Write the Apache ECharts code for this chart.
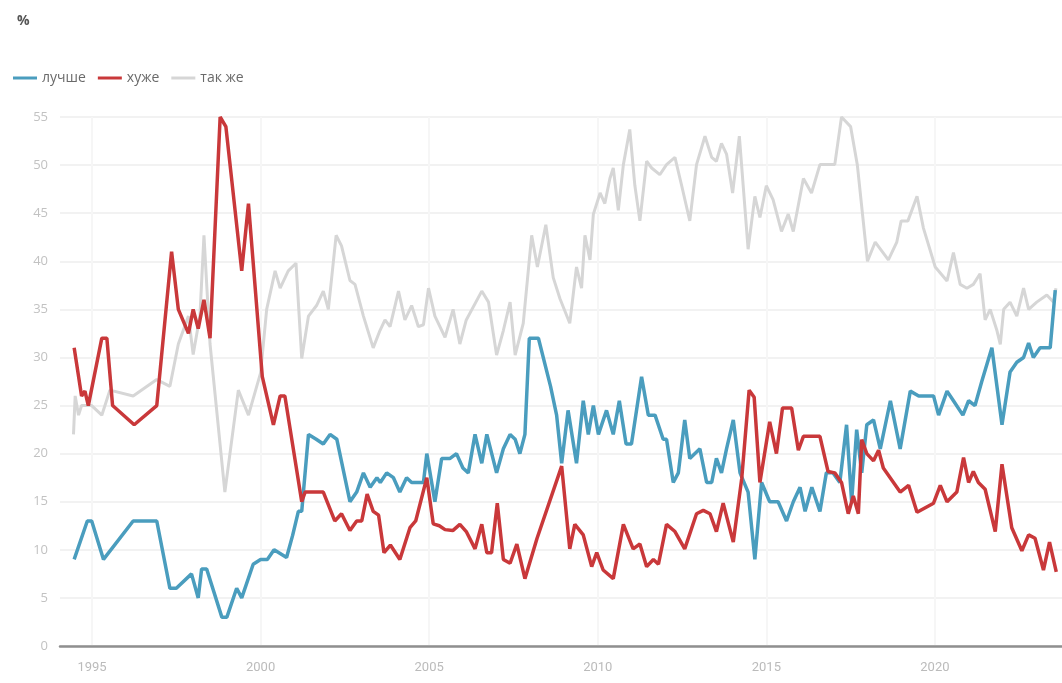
<!DOCTYPE html>
<html lang="ru">
<head>
<meta charset="UTF-8">
<title>лучше / хуже / так же</title>
<style>
  html, body { margin: 0; padding: 0; background: #fff; }
  #main { width: 1062px; height: 683px; }
</style>
</head>
<body>
<div id="main"></div>
<script src="https://cdn.jsdelivr.net/npm/echarts@6/dist/echarts.min.js"></script>
<script>
// [год, %]
var better = [
  [1994.47, 9], [1994.86, 13], [1994.99, 13], [1995.34, 9], [1996.22, 13], [1996.92, 13],
  [1997.31, 6], [1997.5, 6], [1997.95, 7.5], [1998.15, 5], [1998.25, 8], [1998.4, 8],
  [1998.85, 3], [1999.0, 3], [1999.29, 6], [1999.44, 5], [1999.78, 8.5], [2000.0, 9],
  [2000.2, 9], [2000.4, 10], [2000.77, 9.2], [2000.95, 11.5], [2001.12, 14], [2001.22, 14],
  [2001.42, 22], [2001.65, 21.5], [2001.86, 21], [2002.06, 22], [2002.26, 21.5], [2002.65, 15],
  [2002.85, 16], [2003.05, 18], [2003.25, 16.5], [2003.45, 17.5], [2003.55, 17], [2003.74, 18],
  [2003.94, 17.5], [2004.13, 16], [2004.33, 17.5], [2004.48, 17], [2004.68, 17], [2004.83, 17],
  [2004.93, 20], [2005.17, 15], [2005.37, 19.5], [2005.62, 19.5], [2005.81, 20], [2006.0, 18.5],
  [2006.16, 18], [2006.36, 22], [2006.56, 19], [2006.71, 22], [2007.0, 18], [2007.2, 20.5],
  [2007.4, 22], [2007.55, 21.5], [2007.69, 20], [2007.84, 22], [2007.97, 32], [2008.24, 32],
  [2008.6, 27], [2008.78, 24], [2008.93, 19], [2009.12, 24.5], [2009.37, 19], [2009.57, 25.5],
  [2009.72, 22], [2009.87, 25], [2010.02, 22], [2010.26, 24.5], [2010.46, 22], [2010.64, 25.5],
  [2010.84, 21], [2011.0, 21], [2011.3, 28], [2011.5, 24], [2011.7, 24], [2011.94, 21.5],
  [2012.04, 21.5], [2012.24, 17], [2012.39, 18], [2012.58, 23.5], [2012.73, 19.5], [2013.03, 20.5],
  [2013.23, 17], [2013.38, 17], [2013.52, 19.5], [2013.67, 18], [2013.82, 20.5], [2014.02, 23.5],
  [2014.22, 18], [2014.46, 16], [2014.66, 9], [2014.86, 17], [2015.1, 15], [2015.35, 15],
  [2015.6, 13], [2015.8, 15], [2016.0, 16.5], [2016.15, 14], [2016.35, 16.5], [2016.59, 14],
  [2016.78, 18], [2016.98, 18], [2017.18, 17], [2017.38, 23], [2017.53, 15], [2017.68, 22.5],
  [2017.83, 18], [2017.98, 23], [2018.18, 23.5], [2018.38, 20.5], [2018.68, 25.5], [2018.97, 20.5],
  [2019.27, 26.5], [2019.52, 26], [2019.96, 26], [2020.11, 24], [2020.36, 26.5], [2020.55, 25.5],
  [2020.83, 24], [2021.0, 25.5], [2021.19, 25], [2021.39, 27.5], [2021.69, 31], [2021.99, 23],
  [2022.23, 28.5], [2022.43, 29.5], [2022.63, 30], [2022.78, 31.5], [2022.92, 30], [2023.12, 31],
  [2023.42, 31], [2023.57, 37]
];
var worse = [
  [1994.47, 31], [1994.69, 26], [1994.79, 26.5], [1994.89, 25], [1995.29, 32], [1995.44, 32],
  [1995.61, 25], [1996.25, 23], [1996.92, 25], [1997.36, 41], [1997.56, 35], [1997.86, 32.5],
  [1998.0, 35], [1998.15, 33], [1998.32, 36], [1998.5, 32], [1998.8, 55], [1998.97, 54],
  [1999.44, 39], [1999.64, 46], [2000.05, 28], [2000.38, 23], [2000.58, 26], [2000.72, 26],
  [2001.22, 15], [2001.32, 16], [2001.86, 16], [2002.2, 13], [2002.4, 13.75], [2002.65, 12],
  [2002.85, 13], [2003.0, 13], [2003.16, 15.8], [2003.34, 14], [2003.5, 13.6], [2003.66, 9.7],
  [2003.85, 10.5], [2004.13, 9], [2004.43, 12.3], [2004.6, 13], [2004.93, 17.5], [2005.12, 12.7],
  [2005.3, 12.5], [2005.47, 12.1], [2005.7, 12], [2005.91, 12.65], [2006.1, 11.9], [2006.36, 10.1],
  [2006.56, 12.65], [2006.71, 9.7], [2006.85, 9.7], [2007.02, 14.85], [2007.2, 9], [2007.4, 8.6],
  [2007.6, 10.6], [2007.84, 7], [2008.2, 11.2], [2008.93, 18.7], [2009.17, 10.1], [2009.32, 12.65],
  [2009.57, 11.55], [2009.82, 8.25], [2009.97, 9.7], [2010.16, 7.9], [2010.46, 7], [2010.76, 12.65],
  [2011.05, 10.1], [2011.25, 10.6], [2011.45, 8.25], [2011.65, 9], [2011.8, 8.5], [2012.04, 12.65],
  [2012.29, 11.9], [2012.58, 10.1], [2012.93, 13.75], [2013.13, 14.1], [2013.33, 13.75], [2013.52, 11.9],
  [2013.72, 14.85], [2014.02, 10.8], [2014.27, 17.4], [2014.49, 26.6], [2014.64, 25.85], [2014.81, 17],
  [2015.1, 23.3], [2015.3, 20], [2015.48, 24.75], [2015.75, 24.75], [2015.95, 20.35], [2016.1, 21.8],
  [2016.59, 21.8], [2016.83, 18.15], [2017.03, 18], [2017.23, 17], [2017.43, 13.75], [2017.58, 15.6],
  [2017.73, 13.75], [2017.83, 21.45], [2017.98, 20], [2018.18, 19.25], [2018.33, 20.35], [2018.47, 18.5],
  [2018.97, 16], [2019.22, 16.7], [2019.47, 13.9], [2019.96, 14.85], [2020.16, 16.7], [2020.36, 15],
  [2020.65, 16], [2020.85, 19.6], [2021.0, 17], [2021.14, 18.15], [2021.29, 17], [2021.49, 16.3],
  [2021.79, 11.9], [2021.99, 18.9], [2022.28, 12.3], [2022.58, 9.9], [2022.78, 11.55], [2022.97, 11.2],
  [2023.22, 7.9], [2023.4, 10.8], [2023.6, 7.7]
];
var same = [
  [1994.45, 22], [1994.5, 26], [1994.6, 24], [1994.69, 25], [1994.99, 25], [1995.29, 24],
  [1995.53, 26.6], [1996.22, 26], [1996.92, 27.7], [1997.31, 27], [1997.56, 31.4], [1997.86, 34.3],
  [1998.0, 30.3], [1998.2, 34.3], [1998.32, 42.7], [1998.5, 31.4], [1998.94, 16], [1999.34, 26.6],
  [1999.64, 24], [2000.0, 28.4], [2000.18, 35], [2000.43, 39], [2000.58, 37.2], [2000.82, 39],
  [2001.05, 39.8], [2001.22, 29.9], [2001.42, 34.3], [2001.66, 35.4], [2001.86, 36.9], [2002.01, 35],
  [2002.24, 42.7], [2002.4, 41.6], [2002.65, 38], [2002.8, 37.6], [2003.05, 34.3], [2003.34, 31],
  [2003.54, 32.8], [2003.69, 33.9], [2003.84, 33.2], [2004.09, 36.9], [2004.28, 33.9], [2004.48, 35.4],
  [2004.68, 33.2], [2004.83, 33.4], [2004.98, 37.2], [2005.17, 34.3], [2005.47, 32.1], [2005.71, 35],
  [2005.91, 31.4], [2006.1, 33.9], [2006.56, 36.9], [2006.76, 35.75], [2007.0, 30.25], [2007.2, 32.8],
  [2007.4, 35.75], [2007.55, 30.25], [2007.79, 33.55], [2008.04, 42.7], [2008.21, 39.4], [2008.46, 43.8],
  [2008.68, 38.3], [2008.88, 36.1], [2009.17, 33.55], [2009.37, 39.4], [2009.52, 37.2], [2009.62, 42.7],
  [2009.77, 40.15], [2009.87, 44.9], [2010.07, 47.1], [2010.21, 46], [2010.36, 48.6], [2010.46, 49.7],
  [2010.61, 45.3], [2010.76, 50.05], [2010.95, 53.7], [2011.1, 47.9], [2011.25, 44.2], [2011.45, 50.4],
  [2011.6, 49.7], [2011.84, 49], [2012.04, 50.05], [2012.29, 50.8], [2012.49, 47.85], [2012.73, 44.2],
  [2012.93, 50.05], [2013.18, 53], [2013.38, 50.8], [2013.52, 50.4], [2013.67, 52.25], [2013.82, 51.15],
  [2014.0, 47.1], [2014.2, 53], [2014.46, 41.25], [2014.66, 46.75], [2014.81, 44.55], [2015.0, 47.85],
  [2015.2, 46.4], [2015.45, 43.1], [2015.65, 44.9], [2015.8, 43.1], [2016.1, 48.6], [2016.34, 47.1],
  [2016.59, 50.05], [2017.03, 50.05], [2017.23, 55], [2017.5, 54], [2017.7, 50], [2018.0, 40],
  [2018.23, 42], [2018.62, 40.15], [2018.87, 42], [2019.0, 44.2], [2019.2, 44.2], [2019.47, 46.75],
  [2019.66, 43.45], [2020.01, 39.4], [2020.36, 37.95], [2020.55, 40.9], [2020.75, 37.6], [2020.95, 37.2],
  [2021.14, 37.6], [2021.34, 38.7], [2021.49, 33.9], [2021.64, 35], [2021.84, 32.8], [2021.94, 31.35],
  [2022.04, 35], [2022.23, 35.75], [2022.43, 34.3], [2022.63, 37.2], [2022.78, 35], [2023.02, 35.75],
  [2023.32, 36.5], [2023.52, 35.75], [2023.59, 37.2]
];
var yearTicks = [1995, 2000, 2005, 2010, 2015, 2020];

var chart = echarts.init(document.getElementById('main'));
var option = {
  backgroundColor: '#fff',
  animation: false,
  title: {
    text: '%',
    left: 12,
    top: 9,
    textStyle: { fontSize: 14, fontWeight: 'bold', color: '#555', fontFamily: 'Open Sans' }
  },
  legend: {
    data: ['лучше', 'хуже', 'так же'],
    left: 8,
    top: 66,
    icon: 'rect',
    itemWidth: 24,
    itemHeight: 3,
    itemGap: 12,
    textStyle: { color: '#6a6a6a', fontSize: 14, fontFamily: 'Open Sans' }
  },
  grid: { left: 60, right: 0, top: 117, bottom: 37 },
  xAxis: {
    type: 'value',
    min: 1994.05,
    max: 2023.77,
    axisLine: { show: true, lineStyle: { color: '#8f8f8f', width: 2.5 } },
    axisTick: { show: false, customValues: yearTicks },
    axisLabel: {
      customValues: yearTicks,
      color: '#bbb',
      fontSize: 13,
      margin: 15,
      fontFamily: 'Roboto',
      formatter: function (v) { return String(Math.round(v)); }
    },
    splitLine: { show: true, lineStyle: { color: '#f6f6f6', width: 2 } }
  },
  yAxis: {
    type: 'value',
    min: 0,
    max: 55,
    interval: 5,
    axisLine: { show: false },
    axisTick: { show: false },
    axisLabel: { color: '#c2c2c2', fontSize: 13, margin: 12, fontFamily: 'Open Sans' },
    splitLine: { lineStyle: { color: '#f2f2f2', width: 2 } }
  },
  series: [
    {
      name: 'так же', type: 'line', data: same, showSymbol: false, z: 1,
      lineStyle: { color: '#d6d6d6', width: 3 }, itemStyle: { color: '#d6d6d6' }
    },
    {
      name: 'лучше', type: 'line', data: better, showSymbol: false, z: 2,
      lineStyle: { color: '#4a9dbe', width: 3.5 }, itemStyle: { color: '#4a9dbe' }
    },
    {
      name: 'хуже', type: 'line', data: worse, showSymbol: false, z: 3,
      lineStyle: { color: '#c9383a', width: 3.5 }, itemStyle: { color: '#c9383a' }
    }
  ]
};
chart.setOption(option);
</script>
</body>
</html>
